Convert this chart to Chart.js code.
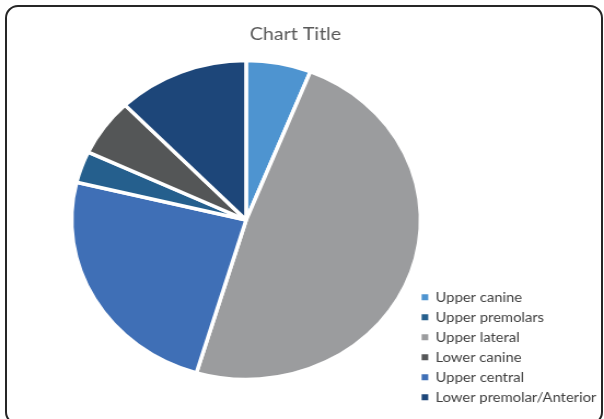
<!DOCTYPE html>
<html>
<head>
<meta charset="utf-8">
<script src="https://cdn.jsdelivr.net/npm/chart.js@4"></script>
<style>
    html, body { margin: 0; padding: 0; background: #fff; }
    body { width: 604px; height: 419px; position: relative; overflow: hidden; }
    /* canvas is drawn narrower and widened to the window */
    #tooth-chart {
        position: absolute; left: 0; top: 0;
        width: 604px !important; height: 419px !important;
    }
    .chart-frame {
        position: absolute; left: 5px; top: 5px;
        width: 594px; height: 416px;
        border: 2px solid #262626; border-radius: 13px;
        pointer-events: none;
    }
</style>
</head>
<body>
<canvas id="tooth-chart" width="552" height="419"></canvas>
<div class="chart-frame"></div>
<script>
// Fatias na ordem do gráfico (sentido horário a partir do topo)
const categories = ['Upper canine', 'Upper lateral', 'Upper central', 'Upper premolars', 'Lower canine', 'Lower premolar/Anterior'];
const values = [6.0, 48.6, 24.2, 3.2, 5.8, 12.2];
const sliceColors = ['#4e94d0', '#9b9c9e', '#3f6fb6', '#255f8d', '#545657', '#1d4679'];
// Ordem em que a legenda lista as categorias
const legendOrder = ['Upper canine', 'Upper premolars', 'Upper lateral', 'Lower canine', 'Upper central', 'Lower premolar/Anterior'];
const chartTitle = 'Chart Title';

// Título desenhado à mão, centralizado na largura toda do quadro
const titlePlugin = {
    id: 'frameTitle',
    afterDraw(chart) {
        const ctx = chart.ctx;
        ctx.save();
        ctx.font = '18px Lato, "Open Sans", sans-serif';
        ctx.fillStyle = '#595959';
        ctx.textAlign = 'center';
        ctx.textBaseline = 'middle';
        ctx.fillText(chartTitle, 270, 34);
        ctx.restore();
    }
};

function initToothChart() {
    const ctx = document.getElementById('tooth-chart');
    if (!ctx) return;

    new Chart(ctx, {
        type: 'pie',
        data: {
            labels: categories,
            datasets: [{
                data: values,
                backgroundColor: sliceColors,
                borderColor: '#ffffff',
                borderWidth: 3.5,
                hoverOffset: 0
            }]
        },
        options: {
            responsive: false,
            animation: false,
            devicePixelRatio: 1,
            radius: 159.5,
            layout: {
                padding: { left: 71, right: -3, top: 29.5, bottom: 8.5 }
            },
            plugins: {
                title: { display: false },
                tooltip: { enabled: false },
                legend: {
                    position: 'right',
                    align: 'end',
                    labels: {
                        boxWidth: 6,
                        boxHeight: 6,
                        padding: 6.5,
                        color: '#404040',
                        font: { family: 'Lato, "Open Sans", sans-serif', size: 13.5 },
                        generateLabels: function(chart) {
                            const base = Chart.overrides.pie.plugins.legend.labels.generateLabels(chart);
                            return base.map(item => ({ ...item, lineWidth: 0 }));
                        },
                        sort: function(a, b) {
                            return legendOrder.indexOf(a.text) - legendOrder.indexOf(b.text);
                        }
                    }
                }
            }
        },
        plugins: [titlePlugin]
    });
}

initToothChart();
</script>
</body>
</html>
